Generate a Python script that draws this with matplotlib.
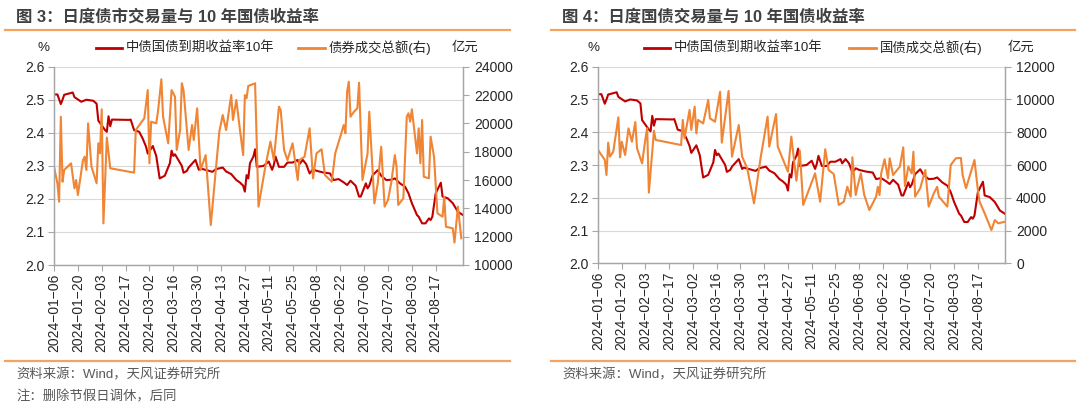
import matplotlib
matplotlib.use("Agg")
import matplotlib.pyplot as plt
import pandas as pd

plt.rcParams['font.family'] = ['Liberation Sans', 'Noto Sans CJK SC', 'DejaVu Sans']
plt.rcParams['axes.unicode_minus'] = True

# 中债国债到期收益率10年 (%)
yield_dates = ["01-06", "01-08", "01-10", "01-11", "01-12", "01-17", "01-18", "01-22", "01-25", "01-29",
               "01-31", "02-01", "02-05", "02-06", "02-07", "02-08", "02-09", "02-19", "02-20", "02-22",
               "02-25", "02-27", "02-29", "03-01", "03-04", "03-06", "03-08", "03-11", "03-14", "03-15",
               "03-16", "03-17", "03-21", "03-22", "03-24", "03-25", "03-29", "03-31", "04-01", "04-08",
               "04-10", "04-14", "04-16", "04-19", "04-22", "04-24", "04-26", "04-27", "04-28", "04-29",
               "04-30", "05-02", "05-03", "05-04", "05-08", "05-11", "05-13", "05-14", "05-15", "05-17",
               "05-20", "05-22", "05-25", "05-28", "05-29", "05-31", "06-02", "06-04", "06-06", "06-08",
               "06-12", "06-16", "06-18", "06-21", "06-24", "06-26", "06-28", "07-01", "07-03", "07-04",
               "07-07", "07-08", "07-09", "07-11", "07-14", "07-16", "07-19", "07-22", "07-24", "07-27",
               "07-30", "08-01", "08-03", "08-06", "08-07", "08-09", "08-11", "08-13", "08-14", "08-15",
               "08-17", "08-20", "08-21", "08-24", "08-27", "08-30", "09-02"]
yield_vals = [2.516, 2.516, 2.487, 2.500, 2.515, 2.522, 2.508, 2.494, 2.500, 2.497,
              2.488, 2.437, 2.408, 2.403, 2.450, 2.420, 2.440, 2.439, 2.440, 2.408,
              2.403, 2.383, 2.358, 2.337, 2.360, 2.330, 2.262, 2.270, 2.308, 2.346,
              2.330, 2.335, 2.300, 2.279, 2.285, 2.295, 2.318, 2.288, 2.292, 2.282,
              2.290, 2.295, 2.283, 2.275, 2.257, 2.250, 2.240, 2.222, 2.272, 2.262,
              2.308, 2.328, 2.350, 2.297, 2.300, 2.313, 2.288, 2.303, 2.328, 2.297,
              2.297, 2.310, 2.310, 2.318, 2.305, 2.318, 2.305, 2.277, 2.290, 2.285,
              2.280, 2.277, 2.257, 2.260, 2.250, 2.242, 2.255, 2.240, 2.207, 2.207,
              2.247, 2.232, 2.240, 2.272, 2.287, 2.270, 2.257, 2.258, 2.262, 2.247,
              2.237, 2.217, 2.187, 2.151, 2.146, 2.126, 2.126, 2.141, 2.136, 2.146,
              2.217, 2.249, 2.207, 2.202, 2.187, 2.161, 2.151]

# 债券成交总额 (亿元)
bond_dates = ["01-06", "01-08", "01-09", "01-10", "01-11", "01-12", "01-16", "01-18", "01-19", "01-20",
              "01-23", "01-24", "01-25", "01-26", "01-28", "01-31", "02-01", "02-02", "02-03", "02-04",
              "02-06", "02-08", "02-22", "02-23", "02-28", "03-01", "03-02", "03-03", "03-06", "03-07",
              "03-09", "03-10", "03-13", "03-15", "03-17", "03-18", "03-20", "03-21", "03-22", "03-25",
              "03-27", "03-28", "03-30", "04-01", "04-04", "04-07", "04-12", "04-14", "04-16", "04-19",
              "04-20", "04-22", "04-24", "04-26", "04-27", "04-28", "04-29", "05-03", "05-05", "05-09",
              "05-11", "05-12", "05-14", "05-17", "05-18", "05-20", "05-22", "05-25", "05-28", "05-29",
              "06-01", "06-04", "06-06", "06-08", "06-11", "06-13", "06-17", "06-19", "06-22", "06-24",
              "06-25", "06-26", "06-27", "06-28", "06-30", "07-02", "07-03", "07-05", "07-08", "07-09",
              "07-12", "07-14", "07-16", "07-18", "07-20", "07-22", "07-24", "07-25", "07-26", "07-29",
              "07-31", "08-01", "08-02", "08-03", "08-06", "08-07", "08-08", "08-09", "08-10", "08-13",
              "08-14", "08-16", "08-18", "08-21", "08-22", "08-23", "08-27", "08-28", "08-30", "09-01"]
bond_vals = [16940, 15770, 14470, 20470, 15880, 16710, 17180, 15410, 16000, 14940,
             17410, 17640, 16710, 20000, 16940, 15770, 18590, 17880, 20990, 12940,
             19000, 16830, 16520, 19530, 20360, 22350, 17180, 20120, 20000, 20820,
             23110, 20470, 18590, 22350, 21880, 18120, 19530, 22830, 22350, 18120,
             19880, 18820, 21060, 16710, 17760, 12820, 19410, 20590, 19530, 22000,
             20240, 21650, 19650, 17760, 22000, 21770, 22640, 22830, 14120, 16940,
             18120, 18710, 17410, 21180, 20940, 18120, 17410, 18590, 16000, 17410,
             17640, 19650, 16120, 17880, 18170, 16350, 15880, 17880, 19060, 19880,
             19300, 22240, 22940, 20470, 20820, 21060, 22870, 16000, 17880, 20820,
             14350, 15770, 18350, 14120, 14590, 15880, 17760, 16940, 14240, 14710,
             20470, 20710, 20120, 20990, 17880, 19650, 17180, 20240, 16230, 16120,
             19060, 17640, 13650, 13410, 14820, 12700, 12590, 11580, 14120, 11890]

# 国债成交总额 (亿元)
gov_dates = ["01-06", "01-10", "01-11", "01-12", "01-13", "01-15", "01-18", "01-19", "01-20", "01-22",
             "01-24", "01-26", "01-28", "01-29", "02-01", "02-03", "02-04", "02-05", "02-08", "02-09",
             "02-24", "02-25", "02-26", "02-29", "03-01", "03-03", "03-04", "03-05", "03-08", "03-11",
             "03-12", "03-15", "03-18", "03-19", "03-23", "03-25", "03-29", "03-31", "04-03", "04-07",
             "04-11", "04-15", "04-16", "04-18", "04-20", "04-21", "04-27", "04-29", "05-02", "05-04",
             "05-06", "05-13", "05-16", "05-19", "05-21", "05-24", "05-27", "05-30", "06-01", "06-03",
             "06-04", "06-06", "06-07", "06-09", "06-11", "06-14", "06-18", "06-19", "06-20", "06-21",
             "06-23", "06-25", "06-26", "06-28", "07-02", "07-04", "07-05", "07-07", "07-09", "07-10",
             "07-11", "07-14", "07-17", "07-19", "07-22", "07-24", "07-25", "07-30", "08-01", "08-04",
             "08-07", "08-08", "08-10", "08-15", "08-17", "08-18", "08-21", "08-25", "08-27", "08-29",
             "09-02"]
gov_vals = [6920, 6310, 5390, 7360, 6510, 6810, 8910, 6470, 7420, 6610,
            8240, 7420, 8620, 7020, 6100, 7630, 8240, 4310, 8090, 7530,
            7220, 8750, 7630, 9360, 8140, 9560, 7930, 8750, 8540, 9970,
            8850, 8640, 10470, 7360, 10520, 6510, 8440, 6510, 5800, 3660,
            6510, 8950, 7120, 8140, 9110, 7120, 5590, 7730, 5040, 6870,
            3560, 5490, 3760, 6960, 5690, 5450, 3560, 3760, 4670, 4070,
            6470, 4170, 4670, 5490, 4170, 3250, 4070, 4670, 4170, 5490,
            6350, 5190, 6410, 5390, 5900, 7080, 4720, 5900, 5490, 6810,
            4070, 4580, 5690, 3460, 4270, 4670, 4070, 3460, 6000, 6410,
            6430, 5400, 4580, 6305, 4470, 3760, 3050, 2030, 2640, 2440,
            2540]

tick_start = "2024-01-06"
tick_end = "2024-08-17"
x_end = "2024-09-02"

RED = "#C00000"
ORANGE = "#EF8535"
GRID = "#D9D9D9"
SPINE = "#A6A6A6"
TXT = "#262626"

W, H = 1080, 411
fig = plt.figure(figsize=(W / 100, H / 100), dpi=100)


def to_dt(lst):
    return pd.to_datetime(["2024-" + d for d in lst])


def px_axes(x0, y0, x1, y1):
    return fig.add_axes([x0 / W, 1 - y1 / H, (x1 - x0) / W, (y1 - y0) / H])


def ftext(x, y, s, **kw):
    fig.text(x / W, 1 - y / H, s, **kw)


ticks = pd.date_range(tick_start, tick_end, freq="14D")


def style_axes(ax, ax2, lo, hi, step):
    ax.set_xlim(pd.Timestamp(tick_start), pd.Timestamp(x_end))
    ax.set_ylim(2.0, 2.6)
    ax.set_yticks([2.0 + 0.1 * i for i in range(7)])
    ax.set_yticklabels([f"{2.0 + 0.1 * i:.1f}" for i in range(7)])
    ax2.set_ylim(lo, hi)
    ax2.set_yticks(list(range(lo, hi + 1, step)))
    ax2.set_yticklabels([f"{v}" for v in range(lo, hi + 1, step)])
    ax.set_xticks(ticks)
    ax.set_xticklabels([t.strftime("%Y\u2212%m\u2212%d") for t in ticks], rotation=90)
    ax.grid(axis="y", color=GRID, lw=0.8)
    ax.set_axisbelow(True)
    for a in (ax, ax2):
        a.spines["top"].set_visible(False)
        for s in ("left", "right", "bottom"):
            a.spines[s].set_color(SPINE)
            a.spines[s].set_linewidth(0.9)
        a.tick_params(colors=SPINE, labelcolor=TXT, labelsize=10, length=4, width=0.8, pad=2)
    ax.tick_params(axis="y", pad=3)
    ax2.tick_params(axis="y", pad=4)


# left panel: bond market volume
ax = px_axes(54, 66.7, 463, 265)
ax2 = ax.twinx()
ax.plot(to_dt(yield_dates), yield_vals, color=RED, lw=1.5)
ax2.plot(to_dt(bond_dates), bond_vals, color=ORANGE, lw=1.5)
style_axes(ax, ax2, 10000, 24000, 2000)

# right panel: government bond volume
bx = px_axes(598, 66.7, 1005, 263.3)
bx2 = bx.twinx()
bx.plot(to_dt(yield_dates), yield_vals, color=RED, lw=1.5)
bx2.plot(to_dt(gov_dates), gov_vals, color=ORANGE, lw=1.5)
style_axes(bx, bx2, 0, 12000, 2000)

# titles and separator lines
title_kw = dict(fontsize=11.8, fontweight="bold", color="#404040", va="center", ha="left")
ftext(16, 17, "图 3：日度债市交易量与 10 年国债收益率", **title_kw)
ftext(562, 17, "图 4：日度国债交易量与 10 年国债收益率", **title_kw)
for x0, x1 in [(5, 510), (551, 1075)]:
    for yy in (30, 361):
        fig.add_artist(plt.Line2D([x0 / W, x1 / W], [1 - yy / H] * 2, color="#F4A460", lw=1.6))

# legends
leg_kw = dict(fontsize=9.6, color=TXT, va="center", ha="left")
ftext(38, 48, "%", **leg_kw)
fig.add_artist(plt.Line2D([96 / W, 122 / W], [1 - 48 / H] * 2, color=RED, lw=2))
ftext(126, 48, "中债国债到期收益率10年", **leg_kw)
fig.add_artist(plt.Line2D([298 / W, 325 / W], [1 - 48 / H] * 2, color=ORANGE, lw=2))
ftext(329, 48, "债券成交总额(右)", **leg_kw)
ftext(452, 48, "亿元", **leg_kw)

ftext(588, 48, "%", **leg_kw)
fig.add_artist(plt.Line2D([644 / W, 670 / W], [1 - 48 / H] * 2, color=RED, lw=2))
ftext(674, 48, "中债国债到期收益率10年", **leg_kw)
fig.add_artist(plt.Line2D([849 / W, 876 / W], [1 - 48 / H] * 2, color=ORANGE, lw=2))
ftext(880, 48, "国债成交总额(右)", **leg_kw)
ftext(1008, 48, "亿元", **leg_kw)

# notes
note_kw = dict(fontsize=9.6, color="#595959", va="center", ha="left")
ftext(16, 375, "资料来源：Wind，天风证券研究所", **note_kw)
ftext(16, 397, "注：删除节假日调休，后同", **note_kw)
ftext(562, 375, "资料来源：Wind，天风证券研究所", **note_kw)

fig.savefig("out.png", dpi=100, facecolor="white")
